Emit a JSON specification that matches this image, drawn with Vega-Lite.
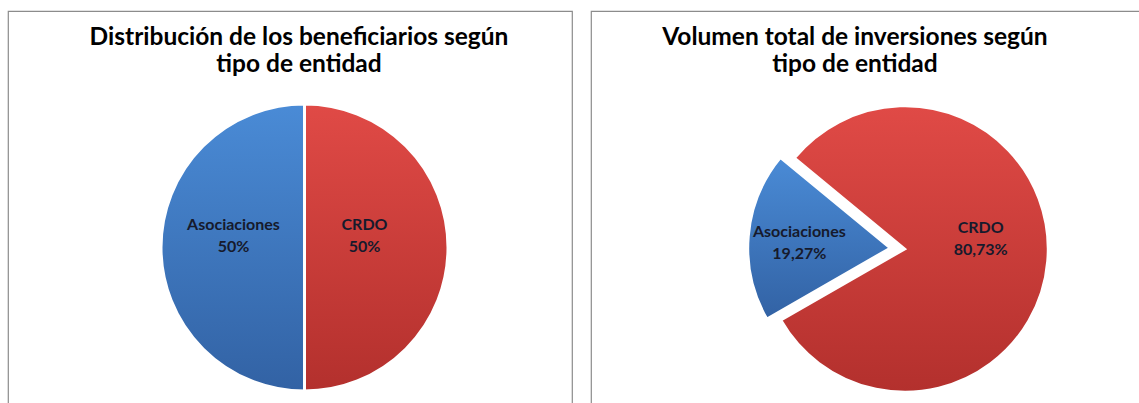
{
  "$schema": "https://vega.github.io/schema/vega-lite/v6.json",
  "padding": {"left": 7, "top": 10, "right": -3, "bottom": -17},
  "background": "white",
  "spacing": 17,
  "config": {
    "view": {"stroke": "#8c8c8c", "strokeWidth": 1.2},
    "title": {"font": "Lato", "fontWeight": "bold", "fontSize": 24.5, "color": "#000000", "lineHeight": 27, "anchor": "middle", "frame": "group", "baseline": "alphabetic"},
    "text": {"font": "Lato", "fontWeight": "bold", "fontSize": 16, "color": "#161a2c", "lineHeight": 22, "lineBreak": "\n", "align": "center", "baseline": "middle"}
  },
  "hconcat": [
    {
      "width": 564,
      "height": 410,
      "view": {"stroke": "#8c8c8c", "strokeWidth": 1.2},
      "title": {"text": ["Distribución de los beneficiarios según", "tipo de entidad"], "offset": -66, "dx": 9},
      "data": {"values": [
        {"entidad": "CRDO", "porcentaje": 50, "etiqueta": "50%"},
        {"entidad": "Asociaciones", "porcentaje": 50, "etiqueta": "50%"}
      ]},
      "transform": [
        {"stack": "porcentaje", "groupby": [], "as": ["inicio", "fin"]},
        {"calculate": "(datum.inicio + datum.fin) / 2", "as": "medio"},
        {"calculate": "datum.entidad + '\\n' + datum.etiqueta", "as": "texto"}
      ],
      "layer": [
        {
          "transform": [{"filter": "datum.entidad === 'CRDO'"}],
          "mark": {"type": "arc", "outerRadius": 143.5, "xOffset": 14.5, "yOffset": 31.5, "stroke": "white", "strokeWidth": 3,
            "fill": {"gradient": "linear", "x1": 0, "y1": 0, "x2": 0, "y2": 1, "stops": [{"offset": 0, "color": "#e04a46"}, {"offset": 1, "color": "#b3302d"}]}},
          "encoding": {
            "theta": {"field": "inicio", "type": "quantitative", "scale": {"domain": [0, 100], "range": [0, 6.283185]}},
            "theta2": {"field": "fin"}
          }
        },
        {
          "transform": [{"filter": "datum.entidad === 'Asociaciones'"}],
          "mark": {"type": "arc", "outerRadius": 143.5, "xOffset": 14.5, "yOffset": 31.5, "stroke": "white", "strokeWidth": 3,
            "fill": {"gradient": "linear", "x1": 0, "y1": 0, "x2": 0, "y2": 1, "stops": [{"offset": 0, "color": "#4a8bd6"}, {"offset": 1, "color": "#3262a4"}]}},
          "encoding": {
            "theta": {"field": "inicio", "type": "quantitative", "scale": {"domain": [0, 100], "range": [0, 6.283185]}},
            "theta2": {"field": "fin"}
          }
        },
        {
          "transform": [{"filter": "datum.entidad === 'CRDO'"}],
          "mark": {"type": "text", "radius": 60, "xOffset": 14.5, "yOffset": 9},
          "encoding": {
            "theta": {"field": "medio", "type": "quantitative", "scale": {"domain": [0, 100], "range": [0, 6.283185]}},
            "text": {"field": "texto"}
          }
        },
        {
          "transform": [{"filter": "datum.entidad === 'Asociaciones'"}],
          "mark": {"type": "text", "radius": 71, "xOffset": 14.5, "yOffset": 8.5},
          "encoding": {
            "theta": {"field": "medio", "type": "quantitative", "scale": {"domain": [0, 100], "range": [0, 6.283185]}},
            "text": {"field": "texto"}
          }
        }
      ]
    },
    {
      "width": 552,
      "height": 410,
      "view": {"stroke": "#8c8c8c", "strokeWidth": 1.2},
      "title": {"text": ["Volumen total de inversiones según", "tipo de entidad"], "offset": -66, "dx": -12},
      "data": {"values": [
        {"entidad": "CRDO", "porcentaje": 80.73, "etiqueta": "80,73%"},
        {"entidad": "Asociaciones", "porcentaje": 19.27, "etiqueta": "19,27%"}
      ]},
      "transform": [
        {"stack": "porcentaje", "groupby": [], "as": ["inicio", "fin"]},
        {"calculate": "(datum.inicio + datum.fin) / 2", "as": "medio"},
        {"calculate": "datum.entidad + '\\n' + datum.etiqueta", "as": "texto"}
      ],
      "layer": [
        {
          "transform": [{"filter": "datum.entidad === 'CRDO'"}],
          "mark": {"type": "arc", "outerRadius": 143, "xOffset": 38, "yOffset": 33, "stroke": "white", "strokeWidth": 2.5,
            "fill": {"gradient": "linear", "x1": 0, "y1": 0, "x2": 0, "y2": 1, "stops": [{"offset": 0, "color": "#e04a46"}, {"offset": 1, "color": "#b3302d"}]}},
          "encoding": {
            "theta": {"field": "inicio", "type": "quantitative", "scale": {"domain": [0, 100], "range": [5.4018, 11.6850]}},
            "theta2": {"field": "fin"}
          }
        },
        {
          "transform": [{"filter": "datum.entidad === 'Asociaciones'"}],
          "mark": {"type": "arc", "outerRadius": 142, "xOffset": 23, "yOffset": 32, "stroke": "white", "strokeWidth": 2.5,
            "fill": {"gradient": "linear", "x1": 0, "y1": 0, "x2": 0, "y2": 1, "stops": [{"offset": 0, "color": "#4a8bd6"}, {"offset": 1, "color": "#3262a4"}]}},
          "encoding": {
            "theta": {"field": "inicio", "type": "quantitative", "scale": {"domain": [0, 100], "range": [5.4018, 11.6850]}},
            "theta2": {"field": "fin"}
          }
        },
        {
          "transform": [{"filter": "datum.entidad === 'CRDO'"}],
          "mark": {"type": "text", "radius": 77, "xOffset": 37, "yOffset": 6},
          "encoding": {
            "theta": {"field": "medio", "type": "quantitative", "scale": {"domain": [0, 100], "range": [5.4018, 11.6850]}},
            "text": {"field": "texto"}
          }
        },
        {
          "transform": [{"filter": "datum.entidad === 'Asociaciones'"}],
          "mark": {"type": "text", "radius": 89, "xOffset": 21, "yOffset": 23},
          "encoding": {
            "theta": {"field": "medio", "type": "quantitative", "scale": {"domain": [0, 100], "range": [5.4018, 11.6850]}},
            "text": {"field": "texto"}
          }
        }
      ]
    }
  ]
}
